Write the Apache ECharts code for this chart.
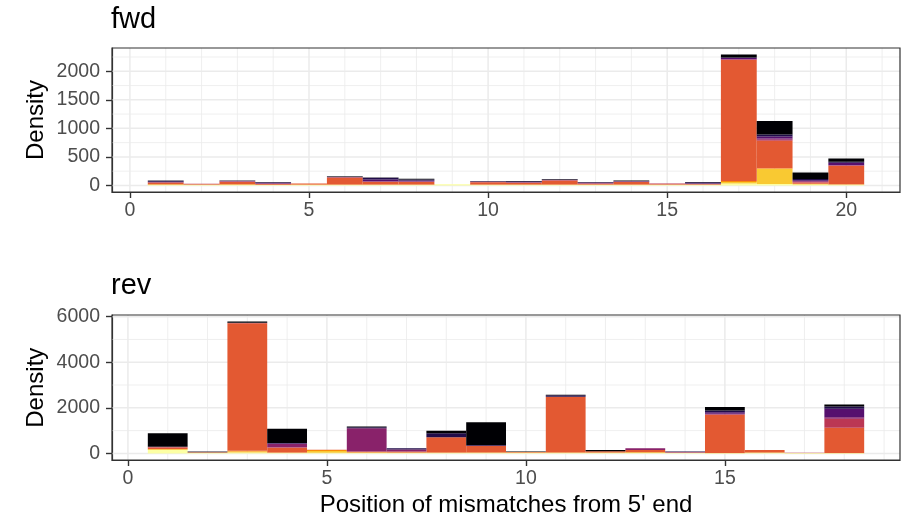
<!DOCTYPE html>
<html>
<head>
<meta charset="utf-8">
<script src="https://cdn.jsdelivr.net/npm/echarts@6/dist/echarts.min.js"></script>
<style>
  html, body { margin: 0; padding: 0; background: #ffffff; }
  #chart { width: 907px; height: 520px; }
</style>
</head>
<body>
<div id="chart"></div>
<script>
// Histogram bins: width 1, centred on each mismatch position
const binWidth = 1;
const fwdBins = [1, 2, 3, 4, 5, 6, 7, 8, 9, 10, 11, 12, 13, 14, 15, 16, 17, 18, 19, 20];
const revBins = [1, 2, 3, 4, 5, 6, 7, 8, 9, 10, 11, 12, 13, 14, 15, 16, 17, 18];

// Stack layers from bottom to top (inferno palette)
const layerColors = ['#FCFFA4', '#F9C932', '#F98C0A', '#E35932', '#BB3754', '#89226A', '#56106E', '#210C4A', '#000004'];

// fwd strand densities, one array per layer
const fwdPale    = [10, 8, 10, 8, 8, 8, 8, 8, 22, 8, 8, 8, 8, 8, 8, 8, 35, 24, 15, 12];
const fwdGold    = [5, 4, 5, 3, 5, 5, 4, 4, 0, 4, 4, 5, 4, 4, 4, 4, 25, 269, 10, 6];
const fwdAmber   = [5, 3, 5, 3, 5, 5, 4, 3, 0, 4, 4, 5, 3, 5, 3, 3, 20, 10, 6, 5];
const fwdOrange  = [30, 5, 45, 10, 15, 120, 45, 45, 0, 40, 30, 70, 15, 45, 5, 5, 2116, 480, 20, 320];
const fwdRose    = [5, 10, 5, 5, 2, 5, 8, 7, 0, 5, 5, 5, 5, 5, 15, 4, 10, 16, 15, 5];
const fwdMagenta = [2, 0, 2, 5, 0, 0, 6, 5, 0, 2, 3, 2, 6, 2, 0, 5, 10, 25, 10, 9];
const fwdPurple  = [10, 0, 5, 15, 0, 3, 30, 15, 0, 6, 8, 4, 10, 5, 0, 10, 15, 35, 15, 40];
const fwdIndigo  = [15, 0, 5, 8, 0, 5, 30, 18, 0, 6, 12, 6, 6, 6, 0, 18, 10, 35, 20, 20];
const fwdBlack   = [5, 0, 5, 2, 0, 12, 5, 12, 0, 5, 2, 6, 2, 7, 0, 2, 52, 236, 115, 53];

// rev strand densities, one array per layer
const revPale    = [146, 18, 39, 14, 33, 18, 15, 14, 21, 23, 20, 20, 20, 18, 10, 18, 10, 10];
const revGold    = [40, 12, 50, 20, 70, 20, 20, 20, 20, 20, 24, 25, 26, 15, 8, 22, 6, 8];
const revAmber   = [10, 8, 30, 10, 50, 10, 10, 10, 0, 0, 0, 0, 0, 0, 0, 0, 0, 0];
const revOrange  = [60, 15, 5590, 201, 10, 40, 44, 662, 300, 20, 2446, 45, 100, 10, 1691, 110, 0, 1103];
const revRose    = [40, 0, 10, 20, 0, 0, 0, 0, 0, 0, 0, 0, 0, 0, 0, 0, 15, 398];
const revMagenta = [0, 0, 0, 144, 0, 1016, 78, 0, 0, 0, 0, 0, 75, 15, 36, 0, 0, 70];
const revPurple  = [0, 0, 0, 30, 0, 0, 10, 0, 0, 0, 0, 0, 0, 0, 60, 0, 0, 373];
const revIndigo  = [0, 25, 10, 20, 0, 45, 44, 177, 30, 0, 58, 0, 0, 30, 80, 0, 0, 100];
const revBlack   = [587, 10, 55, 618, 0, 30, 0, 106, 998, 25, 30, 60, 0, 0, 146, 0, 0, 88];

// Axis breaks
const fwdXTicks = [0, 5, 10, 15, 20];
const fwdXMinor = [1, 2, 3, 4, 6, 7, 8, 9, 11, 12, 13, 14, 16, 17, 18, 19, 21];
const fwdYTicks = [0, 500, 1000, 1500, 2000];
const fwdYMinor = [250, 750, 1250, 1750, 2250];
const revXTicks = [0, 5, 10, 15];
const revXMinor = [1, 2, 3, 4, 6, 7, 8, 9, 11, 12, 13, 14, 16, 17, 18, 19];
const revYTicks = [0, 2000, 4000, 6000];
const revYMinor = [1000, 3000, 5000];

const fwdLayers = [fwdPale, fwdGold, fwdAmber, fwdOrange, fwdRose, fwdMagenta, fwdPurple, fwdIndigo, fwdBlack];
const revLayers = [revPale, revGold, revAmber, revOrange, revRose, revMagenta, revPurple, revIndigo, revBlack];

const FONT = '"Liberation Sans", Arial, Helvetica, sans-serif';
const TICK_COLOR = '#4D4D4D';
const GRID_COLOR = '#EBEBEB';
const FRAME_COLOR = '#333333';

// ggplot-style 5% expansion of the data range
function xExtent(bins) {
  const lo = bins[0] - binWidth / 2;
  const hi = bins[bins.length - 1] + binWidth / 2;
  const pad = (hi - lo) * 0.05;
  return [lo - pad, hi + pad];
}
function yExtent(bins, layers) {
  const totals = bins.map((_, i) => layers.reduce((s, l) => s + l[i], 0));
  const top = Math.max.apply(null, totals);
  return [-top * 0.05, top * 1.05];
}

function stackedSeries(bins, layers, gi) {
  const base = bins.map(() => 0);
  return layers.map((vals, li) => {
    const data = bins.map((b, i) => {
      const y0 = base[i];
      base[i] += vals[i];
      return [b, y0, base[i]];
    });
    return {
      type: 'custom',
      coordinateSystem: 'cartesian2d',
      xAxisIndex: gi,
      yAxisIndex: gi,
      silent: true,
      z: 3,
      data: data,
      encode: { x: 0, y: [1, 2] },
      renderItem: function (params, api) {
        const x = api.value(0), y0 = api.value(1), y1 = api.value(2);
        if (y1 <= y0) return null;
        const p0 = api.coord([x - binWidth / 2, y0]);
        const p1 = api.coord([x + binWidth / 2, y1]);
        return {
          type: 'rect',
          shape: { x: p0[0], y: p1[1], width: p1[0] - p0[0], height: p0[1] - p1[1] },
          style: { fill: layerColors[li] }
        };
      }
    };
  });
}

// Panel grid lines: kind 0 = vertical, kind 1 = horizontal
function gridLineSeries(gi, xs, ys, width) {
  const data = xs.map(v => [v, 0, 0]).concat(ys.map(v => [0, v, 1]));
  return {
    type: 'custom',
    coordinateSystem: 'cartesian2d',
    xAxisIndex: gi,
    yAxisIndex: gi,
    silent: true,
    z: 1,
    data: data,
    encode: { x: 0, y: 1 },
    renderItem: function (params, api) {
      const cs = params.coordSys;
      if (api.value(2) === 0) {
        const px = api.coord([api.value(0), 0])[0];
        return { type: 'line', shape: { x1: px, y1: cs.y, x2: px, y2: cs.y + cs.height },
                 style: { stroke: GRID_COLOR, lineWidth: width } };
      }
      const py = api.coord([0, api.value(1)])[1];
      return { type: 'line', shape: { x1: cs.x, y1: py, x2: cs.x + cs.width, y2: py },
               style: { stroke: GRID_COLOR, lineWidth: width } };
    }
  };
}

function plainNumber(v) { return String(Math.round(v)); }

function xAxisFor(gi, bins, ticks) {
  const ext = xExtent(bins);
  return {
    gridIndex: gi, type: 'value', min: ext[0], max: ext[1],
    axisLine: { show: true, onZero: false, lineStyle: { color: FRAME_COLOR, width: 1.2 } },
    splitLine: { show: false },
    axisTick: { show: true, customValues: ticks, length: 6, lineStyle: { color: FRAME_COLOR, width: 1.4 } },
    axisLabel: { customValues: ticks, formatter: plainNumber, margin: 9, fontSize: 19.5, color: TICK_COLOR, fontFamily: FONT }
  };
}
function yAxisFor(gi, bins, layers, ticks) {
  const ext = yExtent(bins, layers);
  return {
    gridIndex: gi, type: 'value', min: ext[0], max: ext[1],
    axisLine: { show: true, onZero: false, lineStyle: { color: FRAME_COLOR, width: 1.2 } },
    splitLine: { show: false },
    axisTick: { show: true, customValues: ticks, length: 6, lineStyle: { color: FRAME_COLOR, width: 1.4 } },
    axisLabel: { customValues: ticks, formatter: plainNumber, margin: 12, fontSize: 19.5, color: TICK_COLOR, fontFamily: FONT }
  };
}

const chart = echarts.init(document.getElementById('chart'), null, { renderer: 'canvas' });

const option = {
  animation: false,
  backgroundColor: '#ffffff',
  grid: [
    { left: 112, top: 48, width: 788, height: 144, show: true, borderColor: FRAME_COLOR, borderWidth: 1.2, backgroundColor: 'transparent', z: 10 },
    { left: 112, top: 315, width: 788, height: 145, show: true, borderColor: FRAME_COLOR, borderWidth: 1.2, backgroundColor: 'transparent', z: 10 }
  ],
  xAxis: [
    xAxisFor(0, fwdBins, fwdXTicks),
    xAxisFor(1, revBins, revXTicks)
  ],
  yAxis: [
    yAxisFor(0, fwdBins, fwdLayers, fwdYTicks),
    yAxisFor(1, revBins, revLayers, revYTicks)
  ],
  graphic: [
    { type: 'text', x: 111, y: 19.5, style: { text: 'fwd', font: '29px ' + FONT, fill: '#000000', align: 'left', verticalAlign: 'middle' } },
    { type: 'text', x: 111, y: 285.6, style: { text: 'rev', font: '29px ' + FONT, fill: '#000000', align: 'left', verticalAlign: 'middle' } },
    { type: 'text', x: 36.2, y: 120, rotation: Math.PI / 2, style: { text: 'Density', font: '24px ' + FONT, fill: '#000000', align: 'center', verticalAlign: 'middle' } },
    { type: 'text', x: 36.2, y: 387.7, rotation: Math.PI / 2, style: { text: 'Density', font: '24px ' + FONT, fill: '#000000', align: 'center', verticalAlign: 'middle' } },
    { type: 'text', x: 506, y: 505.7, style: { text: "Position of mismatches from 5' end", font: '24px ' + FONT, fill: '#000000', align: 'center', verticalAlign: 'middle' } }
  ],
  series: [
    gridLineSeries(0, fwdXMinor, fwdYMinor, 0.8),
    gridLineSeries(0, fwdXTicks, fwdYTicks, 1.5),
    gridLineSeries(1, revXMinor, revYMinor, 0.8),
    gridLineSeries(1, revXTicks, revYTicks, 1.5)
  ].concat(stackedSeries(fwdBins, fwdLayers, 0), stackedSeries(revBins, revLayers, 1))
};

chart.setOption(option);
</script>
</body>
</html>
